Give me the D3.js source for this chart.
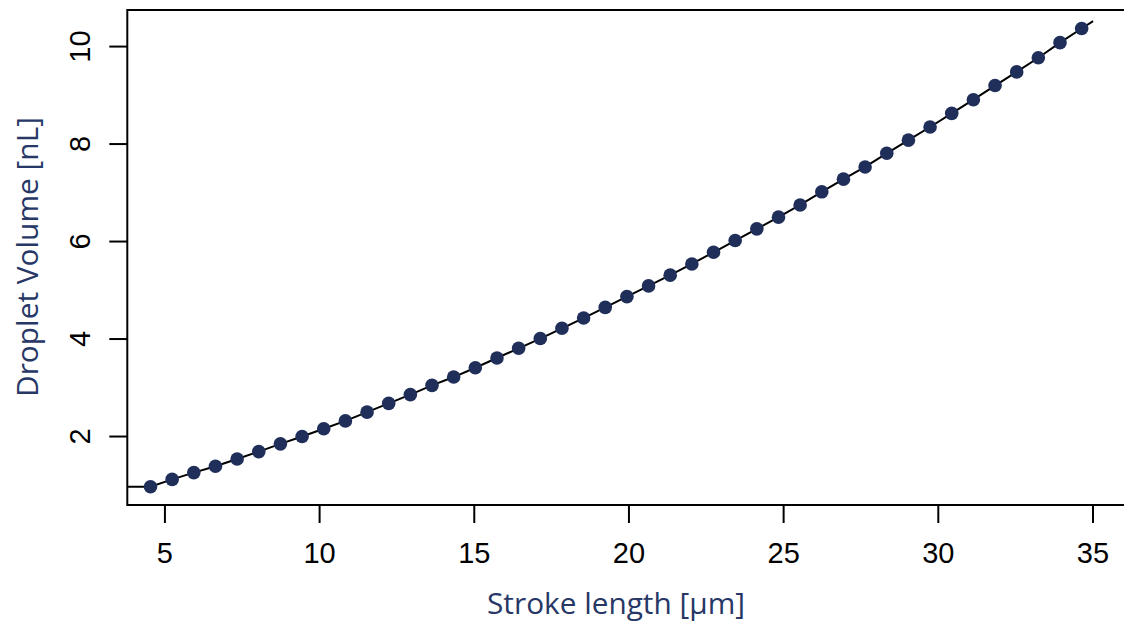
<!DOCTYPE html>
<html>
<head>
<meta charset="utf-8">
<script src="https://cdn.jsdelivr.net/npm/d3@7"></script>
<style>
  body { margin: 0; background: #fff; }
  #chart { width: 1124px; height: 624px; overflow: hidden; }
  .tick text { font-family: "Liberation Sans", Arial, sans-serif; font-size: 29px; fill: #000; }
  .axisLabel { font-family: "Open Sans", "Noto Sans", sans-serif; font-size: 29px; fill: #273766; }
</style>
</head>
<body>
<div id="chart"></div>
<script>

// stroke length [µm] of each measured point
const strokeLength = [4.55, 5.25, 5.95, 6.65, 7.35, 8.05, 8.75, 9.45, 10.15, 10.85,
    11.55, 12.25, 12.95, 13.65, 14.35, 15.05, 15.75, 16.45, 17.15, 17.85,
    18.55, 19.25, 19.95, 20.65, 21.35, 22.05, 22.75, 23.45, 24.15, 24.85,
    25.55, 26.25, 26.95, 27.65, 28.35, 29.05, 29.75, 30.45, 31.15, 31.85,
    32.55, 33.25, 33.95, 34.65];

// droplet volume [nL]
const dropletVolume = [0.96, 1.11, 1.25, 1.38, 1.53, 1.68, 1.84, 1.99, 2.15, 2.31,
    2.49, 2.67, 2.85, 3.04, 3.21, 3.40, 3.60, 3.80, 4.00, 4.21,
    4.42, 4.64, 4.86, 5.08, 5.30, 5.53, 5.77, 6.01, 6.25, 6.49,
    6.74, 7.01, 7.27, 7.52, 7.80, 8.07, 8.34, 8.62, 8.90, 9.19,
    9.47, 9.76, 10.07, 10.36];

// fitted curve ends (starts flat at the left border, runs a bit past the last point)
const curveStart = [3.8, 0.96];
const curveEnd = [35.02, 10.51];

const xTicks = [5, 10, 15, 20, 25, 30, 35];
const yTicks = [2, 4, 6, 8, 10];

const width = 1124;
const height = 624;

const svg = d3.select("#chart")
    .append("svg")
    .attr("width", width)
    .attr("height", height);

const margin = {
    top: 10,
    left: 127.3,
    right: -5.6,
    bottom: 119
};

const xScale = d3.scaleLinear()
    .domain([3.8, 36.2])
    .range([margin.left, width - margin.right]);

const yScale = d3.scaleLinear()
    .domain([0.585, 10.74])
    .range([height - margin.bottom, margin.top]);

const points = strokeLength.map(function(d, i) {
    return [d, dropletVolume[i]];
});

const curve = [curveStart].concat(points).concat([curveEnd]);

const line = d3.line()
    .x(function(d) { return xScale(d[0]); })
    .y(function(d) { return yScale(d[1]); });

svg.append("path")
    .datum(curve)
    .attr("d", line)
    .attr("fill", "none")
    .attr("stroke", "#000")
    .attr("stroke-width", 2);

svg.selectAll("circle")
    .data(points)
    .enter()
    .append("circle")
        .attr("cx", function(d) { return xScale(d[0]); })
        .attr("cy", function(d) { return yScale(d[1]); })
        .attr("r", 6.8)
        .attr("fill", "#1f2f5a");

// plot box
svg.append("rect")
    .attr("x", xScale.range()[0])
    .attr("y", yScale.range()[1])
    .attr("width", xScale.range()[1] - xScale.range()[0])
    .attr("height", yScale.range()[0] - yScale.range()[1])
    .attr("fill", "none")
    .attr("stroke", "#000")
    .attr("stroke-width", 2);

const xAxis = svg.append("g")
    .attr("transform", "translate(0," + (height - margin.bottom) + ")")
    .call(d3.axisBottom(xScale)
        .tickValues(xTicks)
        .tickSize(18)
        .tickSizeOuter(0)
        .tickPadding(19));
xAxis.select(".domain").remove();
xAxis.selectAll(".tick line").attr("stroke-width", 2);

const yAxis = svg.append("g")
    .attr("transform", "translate(" + margin.left + ",0)")
    .call(d3.axisLeft(yScale)
        .tickValues(yTicks)
        .tickSize(18)
        .tickSizeOuter(0));
yAxis.select(".domain").remove();
yAxis.selectAll(".tick line").attr("stroke-width", 2);
yAxis.selectAll(".tick text")
    .attr("x", 0)
    .attr("dy", 0)
    .attr("text-anchor", "middle")
    .attr("transform", "translate(-37,0) rotate(-90)");

const xAxisLabel = svg.append("text")
    .attr("class", "axisLabel")
    .attr("x", 616)
    .attr("y", 614)
    .attr("text-anchor", "middle")
    .attr("textLength", 258)
    .attr("lengthAdjust", "spacingAndGlyphs")
    .text("Stroke length [µm]");

const yAxisLabel = svg.append("text")
    .attr("class", "axisLabel")
    .attr("transform", "translate(38,257) rotate(-90)")
    .attr("text-anchor", "middle")
    .attr("textLength", 280)
    .attr("lengthAdjust", "spacingAndGlyphs")
    .text("Droplet Volume [nL]");

</script>
</body>
</html>
